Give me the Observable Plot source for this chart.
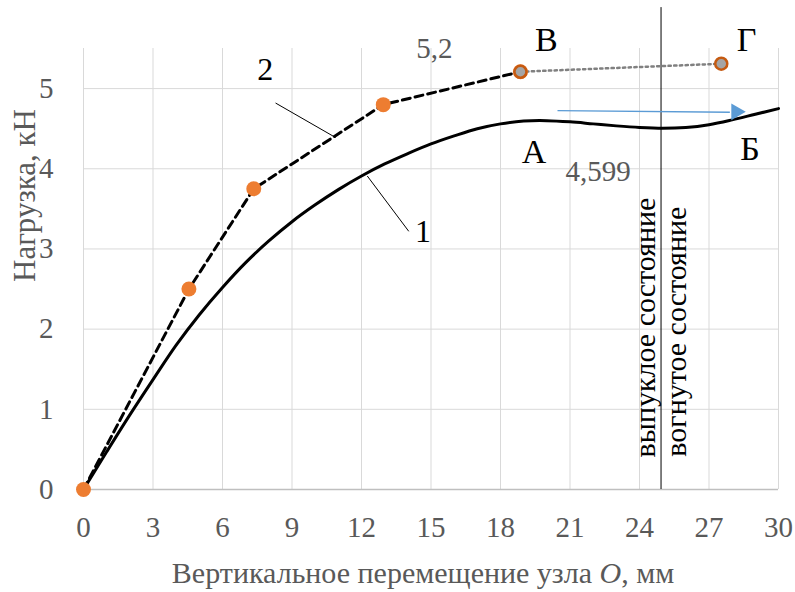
<!DOCTYPE html>
<html><head><meta charset="utf-8">
<script src="https://cdn.jsdelivr.net/npm/d3@7"></script>
<script src="https://cdn.jsdelivr.net/npm/@observablehq/plot@0.6"></script>
<style>
body{margin:0;background:#fff}
svg{display:block}
#chart svg, #chart svg text{font-family:"Liberation Serif","Times New Roman",serif !important;}
</style>
</head><body><div id="chart"></div>
<script>
// ---- data ----
const xTicks = [0, 3, 6, 9, 12, 15, 18, 21, 24, 27, 30];
const yTicks = [0, 1, 2, 3, 4, 5];
// curve 1 (solid)
const curve1X = [0, 1, 2, 3, 4, 5, 6, 7, 8, 9, 10, 11, 12, 13, 14, 15, 16, 17, 18, 19, 20, 21, 22, 23, 24, 25, 26, 27, 28, 29, 30];
const curve1Y = [0, 0.47, 0.93, 1.37, 1.8, 2.18, 2.52, 2.83, 3.1, 3.34, 3.55, 3.74, 3.91, 4.06, 4.19, 4.31, 4.41, 4.5, 4.56, 4.595, 4.6, 4.585, 4.56, 4.535, 4.515, 4.505, 4.515, 4.55, 4.61, 4.68, 4.75];
// curve 2 (dashed, markers)
const curve2X = [0, 4.55, 7.35, 12.94, 18.86];
const curve2Y = [0, 2.5, 3.75, 4.8, 5.21];
// extension В -> Г
const extX = [18.86, 27.53];
const extY = [5.21, 5.31];
const dividerX = 24.93;
const dividerTop = 6.01;
// annotations
const letterText = ["В", "Г", "А", "Б"];
const letterX = [19.98, 28.62, 19.45, 28.77];
const letterY = [5.6, 5.6, 4.21, 4.24];
const valueText = ["5,2", "4,599"];
const valueX = [15.15, 22.21];
const valueY = [5.5, 3.96];
const curveText = ["1", "2"];
const curveTextX = [14.65, 7.84];
const curveTextY = [3.22, 5.24];
const curveTextWeight = ["normal", "bold"];
const leaderX1 = [12.25, 8.29], leaderY1 = [3.91, 4.82];
const leaderX2 = [14.04, 10.88], leaderY2 = [3.22, 4.39];
const stateText = ["выпуклое состояние", "вогнутое состояние"];
const stateX = [24.26, 25.6];
const stateY = [0.4, 0.41];
const arrowX1 = [20.46], arrowY1 = [4.725], arrowX2 = [27.9], arrowY2 = [4.705];
const arrowHeadX = [28.17], arrowHeadY = [4.71];
const xTitle = "Вертикальное перемещение узла O, мм";
const yTitle = "Нагрузка, кН";

// ---- tables ----
const c1 = curve1X.map((x, i) => ({x, y: curve1Y[i]}));
const c2 = curve2X.map((x, i) => ({x, y: curve2Y[i]}));
const ext = extX.map((x, i) => ({x, y: extY[i]}));
const letters = letterText.map((t, i) => ({t, x: letterX[i], y: letterY[i]}));
const values = valueText.map((t, i) => ({t, x: valueX[i], y: valueY[i]}));
const cLabels = curveText.map((t, i) => ({t, x: curveTextX[i], y: curveTextY[i], w: curveTextWeight[i]}));
const leaders = leaderX1.map((x1, i) => ({x1, y1: leaderY1[i], x2: leaderX2[i], y2: leaderY2[i]}));
const states = stateText.map((t, i) => ({t, x: stateX[i], y: stateY[i]}));
const arrows = arrowX1.map((x1, i) => ({x1, y1: arrowY1[i], x2: arrowX2[i], y2: arrowY2[i]}));
const heads = arrowHeadX.map((x, i) => ({x, y: arrowHeadY[i]}));

const serif = "Liberation Serif";
const gray = "#595959";

const chart = Plot.plot({
  width: 795,
  height: 592,
  marginLeft: 83,
  marginRight: 17,
  marginTop: 48,
  marginBottom: 103,
  style: {fontFamily: serif, background: "#fff", overflow: "visible"},
  x: {domain: [0, 30]},
  y: {domain: [0, 5.5]},
  marks: [
    Plot.ruleX(xTicks, {stroke: "#d9d9d9", strokeWidth: 1}),
    Plot.ruleY(yTicks.filter(d => d > 0), {stroke: "#d9d9d9", strokeWidth: 1}),
    Plot.ruleY([0], {stroke: "#bfbfbf", strokeWidth: 1.5}),
    Plot.axisX({ticks: xTicks, tickSize: 0, tickPadding: 27, fontSize: 29, fontFamily: serif, fill: gray, label: null, tickFormat: d => String(d)}),
    Plot.axisY({ticks: yTicks, tickSize: 0, tickPadding: 30, fontSize: 29, fontFamily: serif, fill: gray, label: null, tickFormat: d => String(d)}),
    Plot.text([xTitle], {frameAnchor: "bottom", dx: -8, dy: 84, fontSize: 30, fontFamily: serif, fill: gray, lineAnchor: "middle"}),
    Plot.text([yTitle], {frameAnchor: "left", dx: -58, dy: 13, rotate: -90, fontSize: 31, fontFamily: serif, fill: gray, lineAnchor: "middle"}),
    Plot.ruleX([dividerX], {y1: 0, y2: dividerTop, stroke: "#000", strokeWidth: 1}),
    Plot.line(c1, {x: "x", y: "y", curve: "catmull-rom", stroke: "#000", strokeWidth: 3}),
    Plot.line(c2, {x: "x", y: "y", curve: "linear", stroke: "#000", strokeWidth: 3, strokeDasharray: "8,5"}),
    Plot.line(ext, {x: "x", y: "y", stroke: "#808080", strokeWidth: 2.5, strokeDasharray: "2.3,3.4"}),
    Plot.dot(c2, {x: "x", y: "y", r: 7.5, fill: "#ed7d31"}),
    Plot.dot(ext, {x: "x", y: "y", r: 6, fill: "#a5a5a5", stroke: "#c55a11", strokeWidth: 2.5}),
    Plot.link(arrows, {x1: "x1", y1: "y1", x2: "x2", y2: "y2", stroke: "#5b9bd5", strokeWidth: 1.4}),
    Plot.dot(heads, {x: "x", y: "y", symbol: "triangle", rotate: 90, r: 6.2, fill: "#5b9bd5", stroke: "none"}),
    Plot.link(leaders, {x1: "x1", y1: "y1", x2: "x2", y2: "y2", stroke: "#000", strokeWidth: 1}),
    Plot.text(letters, {x: "x", y: "y", text: "t", fontSize: 34, fontFamily: serif, fill: "#000", lineAnchor: "middle"}),
    Plot.text(values, {x: "x", y: "y", text: "t", fontSize: 29, fontFamily: serif, fill: gray, lineAnchor: "middle"}),
    Plot.text(cLabels, {x: "x", y: "y", text: "t", fontSize: 32, fontFamily: serif, fill: "#000", fontWeight: d => d.w, lineAnchor: "middle"}),
    Plot.text(states, {x: "x", y: "y", text: "t", rotate: -90, textAnchor: "start", lineAnchor: "middle", fontSize: 30, fontFamily: serif, fill: "#000"})
  ]
});
document.getElementById("chart").appendChild(chart);

// italic "O" in the x-axis title
d3.select(chart).selectAll("text").filter(function () { return this.textContent === xTitle; }).each(function () {
  const t = d3.select(this);
  t.text(null);
  const i = xTitle.indexOf("O,");
  t.append("tspan").text(xTitle.slice(0, i));
  t.append("tspan").attr("font-style", "italic").text("O");
  t.append("tspan").text(xTitle.slice(i + 1));
});
</script>
</body></html>
